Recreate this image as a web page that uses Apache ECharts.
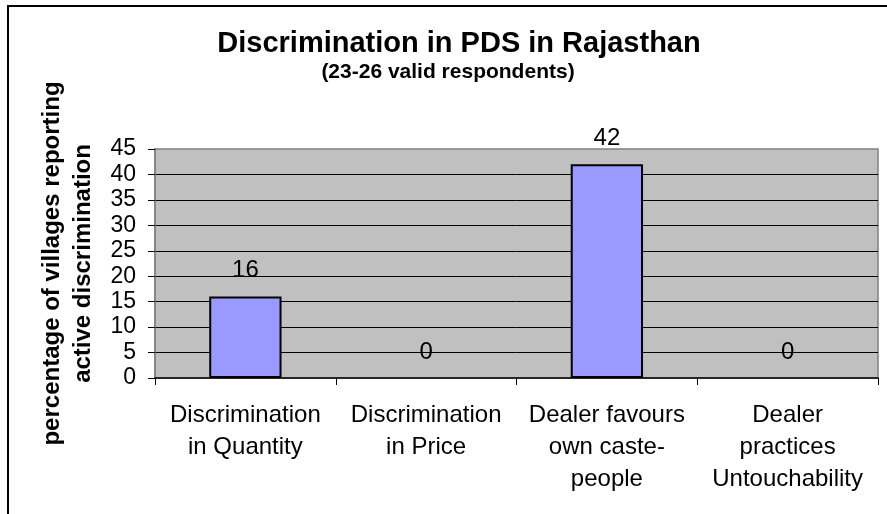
<!DOCTYPE html>
<html>
<head>
<meta charset="utf-8">
<script src="https://cdn.jsdelivr.net/npm/echarts@6/dist/echarts.min.js"></script>
<style>
html,body{margin:0;padding:0;background:#fff;}
#chart{width:887px;height:514px;}
</style>
</head>
<body>
<div id="chart"></div>
<script>
const categories = [
  "Discrimination\nin Quantity",
  "Discrimination\nin Price",
  "Dealer favours\nown caste-\npeople",
  "Dealer\npractices\nUntouchability"
];
const values = [16, 0, 42, 0];
const yTicks = { min: 0, max: 45, interval: 5 };
const titleText = "Discrimination in PDS in Rajasthan";
const subtitleText = "(23-26 valid respondents)";
const yAxisName = "percentage of villages reporting\nactive discrimination";

const FONT = "'Liberation Sans', Arial, sans-serif";
const chart = echarts.init(document.getElementById('chart'), null, {renderer: 'canvas'});
chart.setOption({
  animation: false,
  backgroundColor: '#ffffff',
  title: [
    {
      text: titleText, left: 459, top: 29, padding: 0, textAlign: 'center',
      textStyle: {fontFamily: FONT, fontSize: 29, fontWeight: 'bold', color: '#000'}
    },
    {
      text: subtitleText, left: 448, top: 62, padding: 0, textAlign: 'center',
      textStyle: {fontFamily: FONT, fontSize: 21, fontWeight: 'bold', color: '#000'}
    }
  ],
  graphic: [{
    type: 'rect', silent: true, z: -10,
    shape: {x: 8, y: 6, width: 900, height: 530},
    style: {fill: 'none', stroke: '#000', lineWidth: 2}
  }],
  grid: {
    left: 155, right: 9, top: 149, bottom: 136,
    show: true, backgroundColor: '#C0C0C0', borderColor: '#808080', borderWidth: 1.5
  },
  xAxis: {
    type: 'category',
    data: categories,
    axisLine: {show: true, lineStyle: {color: '#000', width: 1.5}},
    axisTick: {show: true, length: 7, lineStyle: {color: '#000'}},
    axisLabel: {
      interval: 0, margin: 21, color: '#000', fontFamily: FONT, fontSize: 24, lineHeight: 32
    }
  },
  yAxis: {
    type: 'value',
    min: yTicks.min, max: yTicks.max, interval: yTicks.interval,
    name: yAxisName,
    nameLocation: 'middle',
    nameRotate: 90,
    nameGap: 56,
    nameTextStyle: {fontFamily: FONT, fontSize: 24, fontWeight: 'bold', color: '#000', lineHeight: 31},
    axisLine: {show: true, lineStyle: {color: '#808080', width: 1.5}},
    axisTick: {show: true, length: 7, lineStyle: {color: '#000'}},
    axisLabel: {margin: 19, color: '#000', fontFamily: FONT, fontSize: 23},
    splitLine: {show: true, showMinLine: false, showMaxLine: false, lineStyle: {color: '#000', width: 1}}
  },
  series: [{
    type: 'bar',
    data: values.map(v => ({
      value: v,
      itemStyle: v === 0 ? {borderWidth: 0, color: 'transparent'} : undefined
    })),
    barWidth: '40%',
    itemStyle: {color: '#9999FF', borderColor: '#000', borderWidth: 2},
    label: {
      show: true, position: 'top', distance: 14,
      color: '#000', fontFamily: FONT, fontSize: 24
    }
  }]
});
</script>
</body>
</html>
